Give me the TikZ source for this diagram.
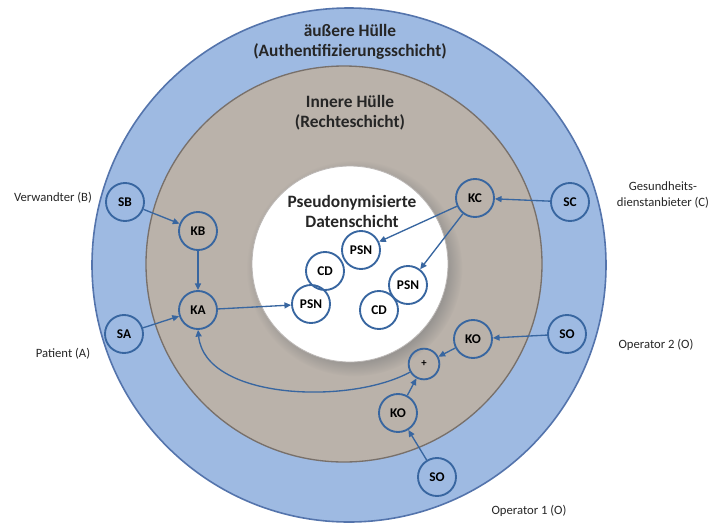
\documentclass[tikz,border=0pt]{standalone}
\usepackage{fontspec}
\setmainfont{Carlito}
\usetikzlibrary{arrows.meta,shadows}

\definecolor{huelleblau}{RGB}{158,186,226}
\definecolor{randblau}{RGB}{84,116,172}
\definecolor{huellegrau}{RGB}{186,178,170}
\definecolor{randgrau}{RGB}{120,112,106}
\definecolor{knotenblau}{RGB}{56,102,160}

\tikzset{every picture/.style={line width=0.75pt}}
\tikzset{
	schluessel/.style={circle, draw=knotenblau, line width=1.4pt, minimum size=28.5pt, inner sep=0pt, font=\fontsize{10}{11}\selectfont\bfseries},
	pfeil/.style={draw=knotenblau, line width=1pt, -{Triangle[length=5pt,width=4.5pt]}},
	schicht/.style={align=center, font=\fontsize{13}{15}\selectfont\bfseries, text=black!85},
	rolle/.style={align=center, font=\fontsize{9.5}{12}\selectfont, text=black!85},
}

\begin{document}
\begin{tikzpicture}[x=0.75pt,y=0.75pt,yscale=-1,xscale=1]
	\useasboundingbox (0,0) rectangle (718,526);

	%Shape: Circle [aeussere Huelle]
	\draw [fill=huelleblau, draw=randblau, line width=1.2pt] (349,265) circle [radius=257];
	%Shape: Circle [innere Huelle]
	\draw [fill=huellegrau, draw=randgrau, line width=1pt] (344,264) circle [radius=198];
	%Shape: Circle [Datenschicht]
	\draw [fill=white, draw=randgrau!50, line width=0.6pt, circular drop shadow={shadow xshift=3pt, shadow yshift=-3pt, opacity=0.6}] (350,264) circle [radius=98];

	% Text Node
	\node [schicht] (aussen) at (350,42) {äußere Hülle\\(Authentifizierungsschicht)};
	% Text Node
	\node [schicht] (innen) at (350,113) {Innere Hülle\\(Rechteschicht)};
	% Text Node
	\node [schicht] (daten) at (352,211) {Pseudonymisierte\\Datenschicht};

	% Schluessel
	\node [schluessel] (SB) at (125,202) {SB};
	\node [schluessel] (SA) at (124,334) {SA};
	\node [schluessel] (KB) at (198,231) {KB};
	\node [schluessel] (KA) at (198,310) {KA};
	\node [schluessel] (KC) at (475,198) {KC};
	\node [schluessel] (SC) at (570,202) {SC};
	\node [schluessel] (KOr) at (473,339) {KO};
	\node [schluessel] (SOr) at (567,334) {SO};
	\node [schluessel, minimum size=23pt, font=\fontsize{8}{8}\selectfont\bfseries] (plus) at (424,364) {+};
	\node [schluessel] (KOu) at (398,413) {KO};
	\node [schluessel] (SOu) at (437,477) {SO};

	% Daten
	\node [schluessel] (PSNa) at (311,304) {PSN};
	\node [schluessel] (CDa) at (325,271) {CD};
	\node [schluessel] (PSNb) at (361,250) {PSN};
	\node [schluessel] (PSNc) at (408,285) {PSN};
	\node [schluessel] (CDb) at (379,310) {CD};

	% Pfeile
	\draw [pfeil] (SB) -- (KB);
	\draw [pfeil] (KB) -- (KA);
	\draw [pfeil] (SA) -- (KA);
	\draw [pfeil] (KA) -- (PSNa);
	\draw [pfeil] (SC) -- (KC);
	\draw [pfeil] (KC) -- (PSNb);
	\draw [pfeil] (KC) -- (PSNc);
	\draw [pfeil] (SOr) -- (KOr);
	\draw [pfeil] (KOr) -- (plus);
	\draw [pfeil] (SOu) -- (KOu);
	\draw [pfeil] (KOu) -- (plus);
	\draw [pfeil] (plus.210) .. controls (350,405) and (205,400) .. (KA.south);

	% Text Node
	\node [rolle] (verwandter) at (53,198) {Verwandter (B)};
	% Text Node
	\node [rolle] (patient) at (63,354) {Patient (A)};
	% Text Node
	\node [rolle] (anbieter) at (663,195) {Gesundheits-\\dienstanbieter (C)};
	% Text Node
	\node [rolle] (operatorzwei) at (656,345) {Operator 2 (O)};
	% Text Node
	\node [rolle] (operatoreins) at (529,511) {Operator 1 (O)};

\end{tikzpicture}
\end{document}
